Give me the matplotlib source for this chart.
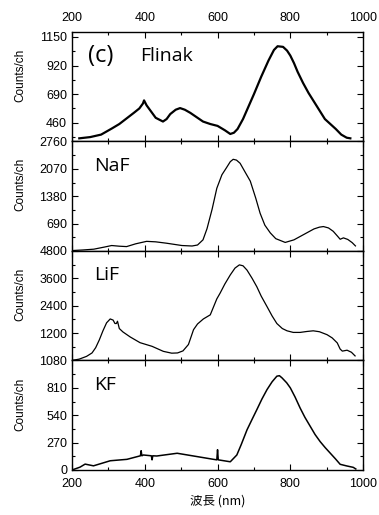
import matplotlib
matplotlib.use('Agg')
import matplotlib.pyplot as plt
from matplotlib.ticker import MultipleLocator

plt.rcParams['font.family'] = ['Liberation Sans', 'Noto Sans CJK JP']

# 読み取った発光スペクトル (波長 nm, counts/ch)
flinak_wl = [220, 250, 280, 310, 330, 350, 370, 385, 395, 398, 405, 415, 430, 450, 460, 470, 485,
             497, 510, 525, 545, 560, 580, 600, 620, 635, 645, 655, 670, 685, 700, 720, 740, 755,
             765, 780, 791, 800, 810, 820, 835, 850, 865, 880, 895, 910, 925, 940, 955, 965]
flinak_cnt = [335, 345, 365, 415, 450, 495, 540, 575, 615, 640, 600, 560, 500, 470, 490, 530, 565,
              578, 565, 540, 500, 470, 450, 435, 400, 370, 380, 410, 490, 590, 690, 830, 960, 1045,
              1075, 1070, 1040, 1000, 940, 870, 780, 700, 630, 560, 490, 450, 410, 365, 340, 335]

naf_wl = [200, 230, 260, 290, 309, 330, 350, 375, 405, 430, 460, 502, 530, 545, 560, 571, 585, 598,
          612, 624, 635, 643, 652, 662, 675, 690, 705, 717, 730, 745, 760, 786, 810, 830, 850, 865,
          880, 891, 905, 918, 930, 937, 946, 958, 970, 979]
naf_cnt = [10, 25, 45, 100, 137, 120, 110, 180, 242, 230, 195, 137, 125, 150, 280, 560, 1050, 1580,
           1920, 2090, 2250, 2310, 2290, 2210, 2000, 1760, 1330, 950, 650, 455, 310, 215, 280, 380,
           480, 555, 600, 615, 580, 495, 370, 295, 330, 290, 210, 127]

lif_wl = [200, 220, 240, 255, 265, 275, 285, 295, 305, 313, 318, 322, 325, 330, 340, 360, 387, 420,
          451, 474, 490, 505, 520, 534, 545, 561, 580, 598, 607, 620, 635, 648, 660, 670, 681, 695,
          708, 720, 736, 750, 763, 778, 791, 808, 827, 845, 863, 880, 901, 915, 929, 937, 943, 956,
          968, 978]
lif_cnt = [0, 60, 180, 330, 560, 900, 1300, 1650, 1820, 1770, 1620, 1620, 1720, 1400, 1250, 1030,
           780, 620, 400, 320, 330, 420, 700, 1350, 1600, 1820, 2000, 2700, 2950, 3350, 3750, 4050,
           4190, 4150, 3960, 3600, 3230, 2820, 2360, 1950, 1620, 1400, 1300, 1230, 1230, 1270, 1300,
           1260, 1130, 990, 770, 500, 410, 450, 360, 200]

kf_wl = [200, 222, 236, 259, 305, 351, 388, 390, 392, 396, 418, 420, 422, 433, 489, 534, 589, 598,
         600, 602, 635, 653, 665, 681, 695, 708, 722, 736, 750, 763, 770, 777, 790, 800, 813, 827,
         840, 855, 868, 882, 896, 910, 924, 937, 955, 973, 980]
kf_cnt = [0, 28, 58, 41, 91, 105, 140, 190, 140, 148, 140, 100, 140, 138, 165, 138, 105, 100,
          200, 100, 81, 148, 250, 396, 500, 595, 700, 793, 870, 925, 930, 909, 860, 810, 720, 611,
          520, 429, 350, 280, 220, 165, 110, 56, 40, 26, 10]

names = ['Flinak', 'NaF', 'LiF', 'KF']
series = [(flinak_wl, flinak_cnt), (naf_wl, naf_cnt), (lif_wl, lif_cnt), (kf_wl, kf_cnt)]
yticks = [[460, 690, 920, 1150],
          [0, 690, 1380, 2070, 2760],
          [0, 1200, 2400, 3600, 4800],
          [0, 270, 540, 810, 1080]]
ylims = [(310, 1190), (0, 2760), (0, 4800), (0, 1080)]
lws = [1.6, 0.9, 0.9, 1.1]

fig, axes = plt.subplots(4, 1, figsize=(3.79, 5.15), dpi=100, sharex=True)
fig.subplots_adjust(left=0.19, right=0.958, top=0.938, bottom=0.0874, hspace=0)

for i, ax in enumerate(axes):
    wl, cnt = series[i]
    ax.plot(wl, cnt, color='black', lw=lws[i])
    ax.set_xlim(200, 1000)
    ax.set_ylim(*ylims[i])
    ax.set_yticks(yticks[i])
    labels = [str(t) for t in yticks[i]]
    if i in (1, 2):
        labels[0] = ''  # 下のパネルの上端ラベルと重なるので省く
    ax.set_yticklabels(labels)
    step = yticks[i][1] - yticks[i][0]
    ax.yaxis.set_minor_locator(MultipleLocator(step / 2))
    ax.xaxis.set_major_locator(MultipleLocator(200))
    ax.xaxis.set_minor_locator(MultipleLocator(100))
    ax.tick_params(which='both', direction='in', top=True, right=True, labelsize=9)
    ax.tick_params(which='major', length=4, width=0.8)
    ax.tick_params(which='minor', length=2, width=0.8)
    ax.tick_params(axis='x', which='major', pad=6)
    for s in ax.spines.values():
        s.set_linewidth(1.0)
    ax.text(0.075, 0.78, names[i], transform=ax.transAxes, fontsize=14,
            family='Open Sans', va='center', ha='left')
    # 縦軸ラベル
    pos = ax.get_position()
    fig.text(0.053, (pos.y0 + pos.y1) / 2 + 0.022, 'Counts/ch', rotation=90,
             ha='center', va='center', fontsize=8.5)

axes[0].tick_params(labeltop=True, labelbottom=False)
axes[0].text(0.055, 0.78, '(c)', transform=axes[0].transAxes, fontsize=17,
             family='Open Sans', va='center', ha='left')
axes[0].texts[0].set_position((0.235, 0.78))
axes[3].set_xlabel('波長 (nm)', fontsize=9, family=['Noto Sans CJK JP'], labelpad=3)

fig.savefig('out.png', dpi=100)
